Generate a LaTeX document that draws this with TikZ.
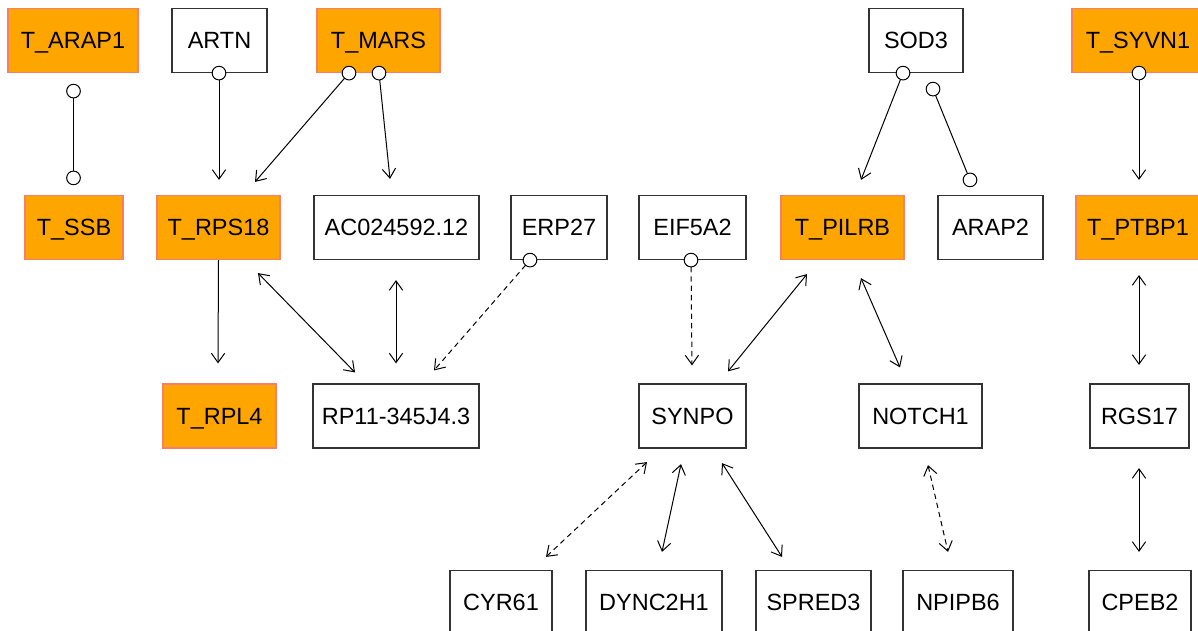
\documentclass[tikz,border=0pt]{standalone}
\usepackage{fontspec}
\setmainfont{Liberation Sans}
\usetikzlibrary{arrows.meta,calc}
\definecolor{orng}{HTML}{FFA500}
\definecolor{salm}{HTML}{F4806A}
\definecolor{bgray}{HTML}{333333}
\tikzset{
  oc/.tip={Circle[length=11pt,fill=white]},
  box/.style={draw=bgray, line width=0.9pt, fill=white, rectangle, inner sep=0pt,
    minimum height=48pt, text height=12.6pt, text depth=0pt,
    font=\fontsize{17.6pt}{20pt}\selectfont},
  tbox/.style={box, draw=salm, fill=orng},
  wd/.style={minimum width=#1*0.75pt},
  conn/.style={line width=0.75pt, black},
  dconn/.style={conn, dash pattern=on 4pt off 3pt},
  cs/.style={shorten <=-5.5pt},
  ce/.style={shorten >=-5.5pt}
}
\begin{document}
\begin{tikzpicture}[x=0.75pt,y=-0.75pt,>={Straight Barb[length=7pt,width=10pt]}]
\useasboundingbox (0,0) rectangle (1198,631);
% row 1
\node[tbox, wd=130] (arap1t) at (73,40.5) {T\_ARAP1};
\node[box, wd=95] (artn) at (219.5,40.5) {ARTN};
\node[tbox, wd=123] (mars) at (378.5,40.5) {T\_MARS};
\node[box, wd=94] (sod3) at (916,40.5) {SOD3};
\node[tbox, wd=132] (syvn1) at (1138,40.5) {T\_SYVN1};
% row 2
\node[tbox, wd=98] (ssb) at (74,227.5) {T\_SSB};
\node[tbox, wd=123] (rps18) at (218.5,227.5) {T\_RPS18};
\node[box, wd=165] (ac02) at (396.5,227.5) {AC024592.12};
\node[box, wd=96] (erp27) at (559,227.5) {ERP27};
\node[box, wd=107] (eif) at (692.5,227.5) {EIF5A2};
\node[tbox, wd=123] (pilrb) at (842.5,227.5) {T\_PILRB};
\node[box, wd=105] (arap2) at (990.5,227.5) {ARAP2};
\node[tbox, wd=124] (ptbp1) at (1138,227.5) {T\_PTBP1};
% row 3
\node[tbox, wd=113] (rpl4) at (219.5,416) {T\_RPL4};
\node[box, wd=166] (rp11) at (396,416) {RP11-345J4.3};
\node[box, wd=107] (synpo) at (692.5,416) {SYNPO};
\node[box, wd=123] (notch1) at (920.5,416) {NOTCH1};
\node[box, wd=99] (rgs17) at (1139.5,416) {RGS17};
% row 4
\node[box, wd=102] (cyr61) at (501,602.5) {CYR61};
\node[box, wd=136] (dync) at (654,602.5) {DYNC2H1};
\node[box, wd=115] (spred3) at (813.5,602.5) {SPRED3};
\node[box, wd=110] (npipb6) at (958,602.5) {NPIPB6};
\node[box, wd=102] (cpeb2) at (1140,602.5) {CPEB2};
% edges
\draw[conn, oc-oc, cs, ce] ($(arap1t.south)+(0.5,18)$) -- ($(ssb.north)+(-0.5,-17)$);
\draw[conn, oc->, cs] ($(artn.south)+(-0.5,0)$) -- ($(rps18.north)+(0.5,-15)$);
\draw[conn, oc->, cs] ($(mars.south)+(-29.5,0)$) -- ($(rps18.north)+(36.5,-13)$);
\draw[conn, oc->, cs] ($(mars.south)+(0.5,0)$) -- ($(ac02.north)+(-6.5,-16)$);
\draw[conn, oc->, cs] ($(sod3.south)+(-13,0)$) -- ($(pilrb.north)+(18.5,-15)$);
\draw[conn, oc-oc, cs, ce] ($(sod3.south)+(17,16)$) -- ($(arap2.north)+(-20.5,-15)$);
\draw[conn, oc->, cs] ($(syvn1.south)+(1,0)$) -- ($(ptbp1.north)+(1,-15)$);
\draw[conn, ->] (rps18.south) -- ($(rpl4.north)+(-1.5,-20)$);
\draw[conn, <->] ($(rps18.south)+(39.5,13)$) -- ($(rp11.north)+(-41,-11)$);
\draw[conn, <->] ($(ac02.south)+(-0.5,20)$) -- ($(rp11.north)+(0,-20)$);
\draw[dconn, oc->, cs] ($(erp27.south)+(-29,0)$) -- ($(rp11.north)+(38,-13)$);
\draw[dconn, oc->, cs] ($(eif.south)+(-1.5,0)$) -- ($(synpo.north)+(-0.5,-18)$);
\draw[conn, <->] ($(pilrb.south)+(-35.5,14)$) -- ($(synpo.north)+(35.5,-12)$);
\draw[conn, <->] ($(pilrb.south)+(18.5,18)$) -- ($(notch1.north)+(-20.5,-16)$);
\draw[dconn, <->] ($(synpo.south)+(-45.5,13.5)$) -- ($(cyr61.north)+(45,-13)$);
\draw[conn, <->] ($(synpo.south)+(-11.5,15.5)$) -- ($(dync.north)+(8,-18)$);
\draw[conn, <->] ($(synpo.south)+(29.5,14.5)$) -- ($(spred3.north)+(-31.5,-13)$);
\draw[dconn, <->] ($(notch1.south)+(7.5,16.5)$) -- ($(npipb6.north)+(-10,-18)$);
\draw[conn, <->] ($(ptbp1.south)+(1,15)$) -- ($(rgs17.north)+(-0.5,-18.5)$);
\draw[conn, <->] ($(rgs17.south)+(-0.5,19.5)$) -- ($(cpeb2.north)+(-1,-18)$);
\end{tikzpicture}
\end{document}
